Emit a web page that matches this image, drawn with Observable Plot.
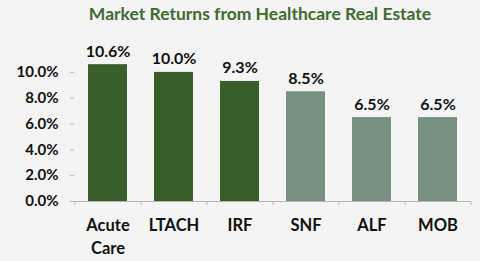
<!DOCTYPE html>
<html>
<head>
<meta charset="utf-8">
<script src="https://cdn.jsdelivr.net/npm/d3@7"></script>
<script src="https://cdn.jsdelivr.net/npm/@observablehq/plot@0.6"></script>
<style>
  html, body { margin: 0; padding: 0; background: #f3f4f3; }
  #wrap { width: 480px; height: 261px; overflow: hidden; }
  #title { height: 28px; line-height: 28px; font-family: Lato, sans-serif; font-weight: 700;
           font-size: 17.5px; color: #3e6b30; text-align: center; padding-left: 40px; box-sizing: border-box; }
  svg { display: block; }
</style>
</head>
<body>
<div id="wrap">
  <div id="title">Market Returns from Healthcare Real Estate</div>
  <div id="chart"></div>
</div>
<script>
const categories = ["Acute\nCare", "LTACH", "IRF", "SNF", "ALF", "MOB"];
const returns = [0.106, 0.100, 0.093, 0.085, 0.065, 0.065];
const yTicks = [0, 0.02, 0.04, 0.06, 0.08, 0.10];

const data = categories.map((c, i) => ({category: c, value: returns[i]}));
const barColors = ["#3a5e2a", "#3a5e2a", "#3a5e2a", "#76917f", "#76917f", "#76917f"];
const font = "Lato, sans-serif";
const pct = d3.format(".1%");

const chart = Plot.plot({
  width: 480,
  height: 233,
  marginLeft: 74,
  marginRight: 10,
  marginTop: 31,
  marginBottom: 60,
  style: {background: "transparent", fontFamily: font, fontWeight: 700, color: "#111"},
  x: {domain: categories, paddingInner: 0.41, paddingOuter: 0.205},
  y: {domain: [0, 0.11]},
  color: {domain: categories, range: barColors},
  marks: [
    Plot.barY(data, {x: "category", y: "value", fill: "category"}),
    Plot.ruleY([0], {stroke: "#b5b5b5", strokeWidth: 1}),
    Plot.ruleX(data, {x: "category", y1: 0, y2: -0.003, dx: -33, stroke: "#b5b5b5"}),
    Plot.ruleX(data.slice(-1), {x: "category", y1: 0, y2: -0.003, dx: 33, stroke: "#b5b5b5"}),
    Plot.axisY({ticks: yTicks, tickFormat: pct, tickSize: 4, tickPadding: 12, line: true,
                stroke: "#b5b5b5", fill: "#111", fontSize: 15, fontWeight: 700, label: null}),
    Plot.axisX({tickSize: 0, tickPadding: 14, fontSize: 16.5, fontWeight: 700, fill: "#111",
                lineHeight: 1.35, label: null}),
    Plot.text(data, {x: "category", y: "value", text: d => pct(d.value), dy: -8,
                     lineAnchor: "bottom", fontSize: 16, fontWeight: 700, fill: "#111"})
  ]
});
document.getElementById("chart").appendChild(chart);
</script>
</body>
</html>
